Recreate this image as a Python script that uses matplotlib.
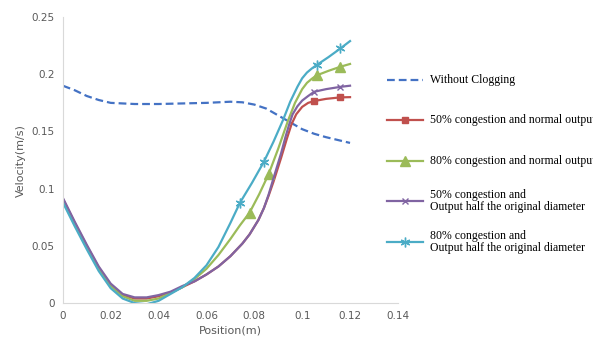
import numpy as np
import matplotlib.pyplot as plt
from matplotlib.lines import Line2D

# positions (m) and velocities (m/s)
x_clog = [0, 0.005, 0.01, 0.015, 0.02, 0.03, 0.04, 0.05, 0.06, 0.07, 0.075, 0.08,
          0.085, 0.09, 0.095, 0.1, 0.105, 0.11, 0.115, 0.12]
v_clog = [0.19, 0.186, 0.181, 0.1775, 0.175, 0.174, 0.174, 0.1745, 0.175, 0.176, 0.1755, 0.1735,
          0.170, 0.164, 0.158, 0.152, 0.148, 0.145, 0.1425, 0.14]

x_red = [0, 0.005, 0.01, 0.015, 0.02, 0.025, 0.03, 0.035, 0.04, 0.045, 0.05, 0.055,
         0.06, 0.065, 0.07, 0.075, 0.078, 0.0817, 0.084, 0.086, 0.088, 0.0912, 0.0935,
         0.0955, 0.0975, 0.1, 0.1025, 0.105, 0.11, 0.116, 0.12]
v_red = [0.091, 0.07, 0.05, 0.031, 0.016, 0.007, 0.004, 0.004, 0.006, 0.009, 0.014, 0.019,
         0.025, 0.032, 0.041, 0.052, 0.06, 0.0726, 0.083, 0.094, 0.106, 0.127, 0.143,
         0.156, 0.165, 0.1715, 0.175, 0.1766, 0.1785, 0.1798, 0.18]

x_green = [0, 0.005, 0.01, 0.015, 0.02, 0.025, 0.03, 0.035, 0.04, 0.045, 0.05, 0.055,
           0.06, 0.065, 0.07, 0.074, 0.078, 0.082, 0.086, 0.09, 0.094, 0.097, 0.1, 0.102,
           0.104, 0.106, 0.111, 0.116, 0.12]
v_green = [0.09, 0.069, 0.049, 0.03, 0.015, 0.006, 0.002, 0.002, 0.004, 0.009, 0.014, 0.021,
           0.03, 0.042, 0.056, 0.068, 0.079, 0.095, 0.1128, 0.135, 0.159, 0.175, 0.187, 0.1925,
           0.196, 0.199, 0.203, 0.2066, 0.209]

x_purple = [0, 0.005, 0.01, 0.015, 0.02, 0.025, 0.03, 0.035, 0.04, 0.045, 0.05, 0.055,
            0.06, 0.065, 0.07, 0.075, 0.078, 0.0817, 0.084, 0.086, 0.088, 0.0912, 0.093,
            0.0947, 0.096, 0.098, 0.1, 0.1025, 0.105, 0.11, 0.116, 0.12]
v_purple = [0.092, 0.071, 0.051, 0.032, 0.017, 0.008, 0.005, 0.005, 0.007, 0.01, 0.015, 0.019,
            0.025, 0.032, 0.041, 0.052, 0.06, 0.0726, 0.083, 0.095, 0.109, 0.131, 0.145,
            0.157, 0.165, 0.172, 0.177, 0.181, 0.1847, 0.187, 0.189, 0.19]

x_cyan = [0, 0.005, 0.01, 0.015, 0.02, 0.025, 0.03, 0.035, 0.04, 0.045, 0.05, 0.055,
          0.06, 0.065, 0.07, 0.074, 0.079, 0.084, 0.088, 0.092, 0.095, 0.098, 0.1,
          0.102, 0.104, 0.106, 0.111, 0.116, 0.12]
v_cyan = [0.088, 0.067, 0.047, 0.028, 0.013, 0.004, 0.0, -0.001, 0.002, 0.008, 0.014, 0.022,
          0.033, 0.049, 0.07, 0.0877, 0.105, 0.1235, 0.141, 0.16, 0.176, 0.189, 0.1965,
          0.2015, 0.205, 0.208, 0.215, 0.2226, 0.229]

marks_red = [0.105, 0.116]
marks_green = [0.078, 0.086, 0.106, 0.116]
marks_purple = [0.105, 0.116]
marks_cyan = [0.074, 0.084, 0.106, 0.116]

labels = ["Without Clogging",
          "50% congestion and normal output",
          "80% congestion and normal output",
          "50% congestion and\nOutput half the original diameter",
          "80% congestion and\nOutput half the original diameter"]

x_ticks = [0, 0.02, 0.04, 0.06, 0.08, 0.1, 0.12, 0.14]
x_ticklabels = ["0", "0.02", "0.04", "0.06", "0.08", "0.1", "0.12", "0.14"]
y_ticks = [0, 0.05, 0.1, 0.15, 0.2, 0.25]
y_ticklabels = ["0", "0.05", "0.1", "0.15", "0.2", "0.25"]


def idx(xs, marks):
    return [xs.index(m) for m in marks]


W, H = 593, 348
fig = plt.figure(figsize=(W / 100, H / 100), dpi=100)
ax = fig.add_axes([0.106, 0.129, 0.565, 0.822])

lw = 1.6
styles = [
    dict(color='#4472C4', ls='--', dashes=(3.5, 1.8)),
    dict(color='#C0504D', marker='s', ms=5),
    dict(color='#9BBB59', marker='^', ms=7),
    dict(color='#8064A2', marker='x', ms=5, mew=1),
    dict(color='#4BACC6', marker=(6, 2, 0), ms=7, mew=1),
]
series = [(x_clog, v_clog, []), (x_red, v_red, marks_red), (x_green, v_green, marks_green),
          (x_purple, v_purple, marks_purple), (x_cyan, v_cyan, marks_cyan)]

for (xs, vs, mk), st in zip(series, styles):
    ax.plot(xs, vs, lw=lw, markevery=idx(xs, mk) if mk else None, **st)

ax.set_xlim(0, 0.14)
ax.set_ylim(0, 0.25)
ax.set_xticks(x_ticks)
ax.set_xticklabels(x_ticklabels)
ax.set_yticks(y_ticks)
ax.set_yticklabels(y_ticklabels)
ax.tick_params(length=0, labelsize=7.5, labelcolor='#595959', pad=6)
for s in ['top', 'right']:
    ax.spines[s].set_visible(False)
for s in ['left', 'bottom']:
    ax.spines[s].set_color('#D9D9D9')
ax.set_xlabel("Position(m)", fontsize=8, color='#595959', labelpad=3)
ax.set_ylabel("Velocity(m/s)", fontsize=8, color='#595959', labelpad=4)

# legend drawn by hand so the rows sit where they do in the original
rows_y = [80, 120, 161, 201, 242]
for y, lab, st in zip(rows_y, labels, styles):
    fy = 1 - y / H
    st = dict(st)
    mk = st.pop('marker', None)
    line = Line2D([387 / W, 405 / W, 423 / W], [fy, fy, fy], transform=fig.transFigure,
                  lw=lw, marker=mk, markevery=[1] if mk else None, **st)
    fig.add_artist(line)
    fig.text(430 / W, fy, lab, ha='left', va='center', fontsize=8.5,
             family='Liberation Serif', linespacing=1.05)

fig.savefig("out.png", dpi=100)
